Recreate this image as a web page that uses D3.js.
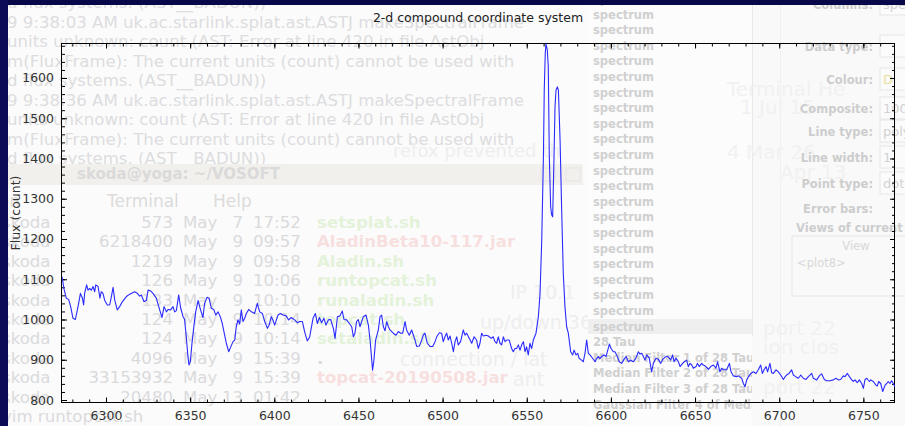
<!DOCTYPE html>
<html><head><meta charset="utf-8">
<script src="https://cdn.jsdelivr.net/npm/d3@7"></script>
<style>
html,body{margin:0;padding:0;background:#fbfbfb;overflow:hidden}
svg{display:block}
text{font-family:"DejaVu Sans",sans-serif}
</style></head><body>
<svg id="chart" width="905" height="426"></svg>
<script>
// Spectrum around H-alpha: wavelength (Angstrom) and flux (count)
const wavelength = [
  6273.9,6275.0,6276.4,6277.8,6279.0,6280.4,6281.8,6283.4,6284.8,6286.0,
  6286.7,6287.3,6288.5,6289.3,6290.3,6291.3,6292.3,6293.3,6293.9,6295.3,
  6296.4,6297.2,6298.2,6299.2,6300.8,6302.2,6303.2,6304.2,6305.2,6306.7,
  6308.1,6309.7,6312.1,6314.1,6317.0,6318.6,6320.0,6321.0,6322.6,6324.0,
  6325.0,6326.5,6327.9,6329.9,6331.9,6333.3,6334.5,6335.9,6336.8,6338.4,
  6339.8,6340.8,6341.8,6343.2,6344.4,6345.8,6346.7,6347.7,6348.7,6349.3,
  6350.1,6351.1,6352.3,6353.3,6354.7,6356.2,6357.6,6358.6,6360.0,6361.2,
  6362.6,6364.0,6365.2,6366.6,6367.9,6369.1,6370.5,6371.5,6372.9,6374.1,
  6375.5,6376.5,6377.4,6378.4,6379.4,6380.4,6381.4,6382.4,6383.4,6384.8,
  6386.4,6388.3,6389.9,6391.3,6392.9,6394.3,6395.9,6396.9,6398.2,6399.2,
  6400.2,6402.2,6403.6,6405.2,6407.1,6408.5,6410.1,6412.1,6413.7,6415.1,
  6416.7,6418.0,6419.6,6421.0,6423.0,6424.4,
  6425.6,6426.8,6428.1,6429.5,6430.7,6432.1,6433.5,6435.1,6436.1,6437.5,
  6439.0,6440.4,6441.4,6443.0,6444.6,6446.0,6447.0,6447.9,6448.9,6449.9,
  6450.9,6452.9,6454.5,6455.9,6456.9,6457.9,6458.4,6459.2,6460.2,6461.8,
  6462.8,6463.8,6464.8,6465.8,6466.8,6467.8,6468.7,6470.7,6472.3,6473.7,
  6475.1,6476.3,6477.7,6478.6,6480.2,6481.6,6483.6,6484.6,6486.2,6487.6,
  6488.5,6489.5,6490.9,6492.5,6494.1,6495.5,6496.5,6498.1,6499.4,6500.4,
  6501.4,6502.4,6503.4,6504.4,6505.4,6506.4,6507.4,6508.4,6509.3,6510.7,
  6512.3,6513.3,6514.3,6515.9,6517.3,6518.7,6520.2,6521.2,6522.2,6523.2,
  6524.2,6525.8,6527.2,6528.8,6530.1,6531.1,6532.1,6533.1,6534.1,6535.1,
  6536.1,6537.1,6538.1,6539.6,6541.0,6542.0,6543.0,6544.0,6545.0,6546.0,
  6547.0,6548.0,6549.0,6549.9,6550.9,6551.9,6552.9,6553.9,6555.5,6556.9,
  6557.9,6558.9,6559.9,6560.4,6561.0,6561.4,6562.2,6562.8,6563.4,6564.2,
  6564.8,6565.4,6566.2,6566.8,6567.4,6568.2,6568.8,6569.8,6570.7,6571.7,
  6572.7,6573.7,6574.7,6576.1,6577.3,6578.1,6579.3,6580.3,6581.2,6582.6,
  6583.6,6584.6,6585.6,6586.6,6587.6,6589.2,6590.6,6591.5,6592.5,6593.5,
  6594.5,6595.9,6597.1,6597.9,6599.1,6600.1,6601.4,6602.4,6603.4,6605.0,
  6606.4,6607.8,6609.0,6610.4,6611.7,6613.3,6614.9,6616.3,6617.3,6618.3,
  6619.3,6620.3,6621.3,6622.8,6624.2,6625.2,6626.8,6628.2,6629.6,6630.8,
  6632.1,6633.5,6634.7,6635.5,6636.7,6637.5,6638.7,6640.1,6641.1,6642.6,
  6643.6,6645.0,6646.0,6647.0,6648.0,6649.0,6650.6,6651.4,6652.5,6653.9,
  6654.9,6656.5,6657.9,6659.3,6660.9,6662.4,6663.4,6664.8,6665.8,6666.8,
  6668.8,6670.4,6671.4,6672.7,6674.7,6675.7,6677.7,6678.7,6679.7,6680.7,
  6681.7,6683.2,6684.6,6686.2,6687.6,6689.0,6690.0,6691.0,6692.2,6693.1,
  6694.5,6695.5,6696.5,6698.1,6699.5,6700.9,6702.5,6703.5,6704.4,6705.8,
  6707.4,6708.4,6709.8,6711.4,6712.8,6714.3,6715.9,6717.3,6718.3,6719.3,
  6720.3,6722.3,6723.8,6725.2,6726.8,6728.2,6730.2,6732.2,6733.7,6735.1,
  6736.5,6738.1,6739.1,6740.5,6741.7,6743.1,6744.1,6745.0,6746.4,6747.6,
  6749.0,6750.0,6751.0,6752.0,6753.6,6754.4,6755.9,6757.5,6758.3,6759.1,
  6760.3,6761.5,6762.9,6763.9,6764.8,6765.8,6766.8,6767.8,6768.8
];
const flux = [
  1106,1077,1053,1050,1032,1003,1000,1032,1065,1053,
  1036,1065,1086,1073,1077,1073,1082,1069,1086,1082,
  1053,1069,1065,1048,1036,1036,1057,1080,1048,1024,
  1032,1044,1057,1063,1069,1065,1058,1061,1044,1048,
  1073,1071,1065,1053,1024,1005,1032,1019,1025,1024,
  1032,1019,1022,1061,1028,1007,1000,957,908,887,
  895,941,986,1019,1047,1024,1005,1040,1055,1053,
  1028,1025,1011,1019,1007,990,961,941,920,932,
  945,949,982,999,989,1024,995,1003,1015,1025,
  1019,1015,1040,1019,1015,995,978,986,1007,999,
  986,1011,1015,1011,1009,999,1005,999,992,995,
  995,970,947,956,1003,1015,
  990,1005,992,1003,986,999,1000,978,953,1007,
  1009,1021,1000,999,990,982,957,966,995,1000,
  982,1007,1011,986,949,899,874,899,949,974,
  1007,1011,982,972,995,982,974,966,961,970,
  966,966,995,974,961,974,949,933,934,949,
  961,966,941,933,933,945,957,967,966,945,
  957,966,949,959,941,920,945,957,937,945,
  974,961,966,953,941,957,949,928,941,966,
  959,961,959,953,957,945,941,957,941,937,
  957,945,949,949,928,920,928,928,937,924,
  937,945,920,932,912,941,928,949,966,1007,
  1065,1197,1405,1570,1661,1685,1670,1628,1405,1280,
  1260,1255,1405,1529,1570,1578,1570,1446,1280,1115,
  1032,982,966,920,912,924,912,916,903,899,
  895,916,949,916,912,903,895,903,908,903,
  908,912,908,920,939,928,920,920,912,895,
  891,901,908,895,899,895,904,920,914,916,
  908,899,912,904,870,891,904,901,891,901,
  906,909,904,899,912,895,904,895,883,891,
  895,899,883,891,887,879,883,891,883,891,
  887,883,876,883,887,879,895,870,879,875,
  875,891,870,860,858,860,854,841,833,850,
  858,866,870,866,875,887,866,875,883,870,
  891,868,866,875,870,862,851,858,862,866,
  875,862,858,854,862,854,851,858,862,866,
  854,850,860,865,851,848,848,850,854,850,
  851,860,858,866,858,850,846,850,843,850,
  841,829,851,854,846,850,846,837,835,846,
  841,821,837,841,846,841,848,841,833
];
const xTickLabels = [6300,6350,6400,6450,6500,6550,6600,6650,6700,6750];
const yTickLabels = [800,900,1000,1100,1200,1300,1400,1500,1600];
const plotTitle = "2-d compound coordinate system";
const yAxisTitle = "Flux (count)";

// Desktop content showing through the translucent plot window
const logLines = [
  "d flux systems. (AST__BADUN))",
  "9 9:38:03 AM uk.ac.starlink.splat.ast.ASTJ makeSpectralFrame",
  "units unknown: count (AST: Error at line 420 in file AstObj",
  "m(FluxFrame): The current units (count) cannot be used with",
  "d flux systems. (AST__BADUN))",
  "9 9:38:36 AM uk.ac.starlink.splat.ast.ASTJ makeSpectralFrame",
  "units unknown: count (AST: Error at line 420 in file AstObj",
  "m(FluxFrame): The current units (count) cannot be used with",
  "d flux systems. (AST__BADUN))"
];
const listSizes = ["573","6218400","1219","126","133","124","124","4096","33153932","20480"];
const listDays  = ["7","9","9","9","9","9","9","9","9","13"];
const listTimes = ["17:52","09:57","09:58","10:06","10:10","10:14","10:14","15:39","15:39","01:42"];
const listFiles = ["setsplat.sh","AladinBeta10-117.jar","Aladin.sh","runtopcat.sh","runaladin.sh",
                   "topcat.sh","setaladin.sh",".","topcat-20190508.jar",""];
const listKinds = ["script","jar","script","script","script","script","script","dir","jar","dir"];
const spectraNames = d3.range(22).map(() => "spectrum")
  .concat(["28 Tau","Median Filter 1 of 28 Tau","Median Filter 2 of 28 Tau",
           "Median Filter 3 of 28 Tau","Gaussian Filter 4 of Median"]);
const panelLabels = ["Columns:","Data type:","Colour:","Composite:","Line type:",
                     "Line width:","Point type:","Error bars:"];
const panelRows   = [4,46,79,108,131,157,183,208];
const panelValues = ["spe","","D","100","poly","1","dot",""];

const svg = d3.select("#chart");
const W = 905, H = 426;

// ---------- background ----------
svg.append("rect").attr("width", W).attr("height", H).attr("fill", "#fbfbfb");

const ghost = svg.append("g").attr("class", "ghost");
const mono = '"DejaVu Sans Mono", monospace';

ghost.selectAll("text.log").data(logLines).join("text")
  .attr("class", "log")
  .attr("x", 7).attr("y", (d, i) => 2 + i * 19.5 + 6)
  .attr("font-family", mono).attr("font-size", 16.6)
  .attr("fill", "#dddde0").text(d => d);

// terminal title bar and menu
ghost.append("rect").attr("x", 7).attr("y", 164).attr("width", 576).attr("height", 21).attr("fill", "#f2f0ec");
ghost.append("text").attr("x", 77).attr("y", 179).attr("font-size", 15).attr("font-weight", "bold")
  .attr("fill", "#dadada").text("skoda@yoga: ~/VOSOFT");
ghost.selectAll("rect.btn").data([541, 566]).join("rect").attr("class", "btn")
  .attr("x", d => d).attr("y", 168).attr("width", 14).attr("height", 13)
  .attr("fill", "none").attr("stroke", "#e4e4e4");
ghost.append("text").attr("x", 20).attr("y", 207).attr("text-anchor", "end").attr("font-size", 17)
  .attr("fill", "#dcdcdc").text("Session");
ghost.append("text").attr("x", 107).attr("y", 207).attr("font-size", 17).attr("fill", "#dcdcdc").text("Terminal");
ghost.append("text").attr("x", 213).attr("y", 207).attr("font-size", 17).attr("fill", "#dcdcdc").text("Help");

// directory listing
const rowY = i => 222 + i * 19.4 + 6;
const listRows = ghost.selectAll("g.row").data(listSizes).join("g").attr("class", "row")
  .attr("font-family", mono).attr("font-size", 16.6).attr("fill", "#dadadc");
listRows.append("text").attr("x", 2).attr("y", (d, i) => rowY(i)).text("skoda");
listRows.append("text").attr("x", 173).attr("y", (d, i) => rowY(i)).attr("text-anchor", "end").text(d => d);
listRows.append("text").attr("x", 183).attr("y", (d, i) => rowY(i)).text("May");
listRows.append("text").attr("x", 243).attr("y", (d, i) => rowY(i)).attr("text-anchor", "end").text((d, i) => listDays[i]);
listRows.append("text").attr("x", 253).attr("y", (d, i) => rowY(i)).text((d, i) => listTimes[i]);
listRows.append("text").attr("x", 317).attr("y", (d, i) => rowY(i)).attr("font-weight", "bold")
  .attr("fill", (d, i) => listKinds[i] === "jar" ? "#f8dfdf" : listKinds[i] === "script" ? "#e4f2da" : "#dadadc")
  .text((d, i) => listFiles[i]);
ghost.append("text").attr("x", 2).attr("y", rowY(10)).attr("font-family", mono).attr("font-size", 16.6)
  .attr("fill", "#dadadc").text("vim runtopcat.sh");

// other window fragments
const faint = [
  {t: "refox prevented th", x: 393, y: 157, s: 18},
  {t: "IP 10.1", x: 510, y: 299, s: 19},
  {t: "up/down 36", x: 480, y: 329, s: 19},
  {t: "connection / lat", x: 400, y: 366, s: 19},
  {t: "ant", x: 513, y: 386, s: 19}
];
ghost.selectAll("text.faint").data(faint).join("text").attr("class", "faint")
  .attr("x", d => d.x).attr("y", d => d.y).attr("font-size", d => d.s)
  .attr("fill", "#eeeeee").text(d => d.t);

// spectra list panel
ghost.append("rect").attr("x", 588).attr("y", 0).attr("width", 164).attr("height", H).attr("fill", "#fcfcfc");
ghost.append("rect").attr("x", 588).attr("y", 319).attr("width", 164).attr("height", 15).attr("fill", "#efefef");
ghost.selectAll("text.spec").data(spectraNames).join("text").attr("class", "spec")
  .attr("x", 593).attr("y", (d, i) => -1.6 + i * 15.6 + 4.5)
  .attr("font-size", 11.5).attr("font-weight", "bold").attr("fill", "#d0d0d0").text(d => d);

// properties panel
ghost.append("rect").attr("x", 752).attr("y", 0).attr("width", W - 752).attr("height", H).attr("fill", "#f9f9f9");
ghost.append("line").attr("x1", 752.5).attr("x2", 752.5).attr("y1", 0).attr("y2", 336).attr("stroke", "#e8e8e8");
ghost.append("line").attr("x1", 780.5).attr("x2", 780.5).attr("y1", 0).attr("y2", 426).attr("stroke", "#f0f0f0");
const fragments2 = [
  {t: "Terminal  He", x: 727, y: 96, s: 20},
  {t: "1 Jul 15", x: 740, y: 114, s: 20},
  {t: "4 Mar 26", x: 727, y: 159, s: 20},
  {t: "Apr 13", x: 780, y: 179, s: 20},
  {t: "port 22", x: 763, y: 335, s: 20},
  {t: "ion clos", x: 763, y: 354, s: 20},
  {t: "port 22", x: 763, y: 394, s: 20}
];
ghost.selectAll("text.frag2").data(fragments2).join("text").attr("class", "frag2")
  .attr("x", d => d.x).attr("y", d => d.y).attr("font-size", d => d.s)
  .attr("font-family", mono).attr("fill", "#f1f1f1").text(d => d.t);
ghost.selectAll("text.plabel").data(panelLabels).join("text").attr("class", "plabel")
  .attr("x", 873).attr("y", (d, i) => panelRows[i] + 4.5).attr("text-anchor", "end")
  .attr("font-size", 11.5).attr("font-weight", "bold").attr("fill", "#cdcdcd").text(d => d);
ghost.selectAll("rect.pbox").data(panelRows.slice(0, 7)).join("rect").attr("class", "pbox")
  .attr("x", 880).attr("y", d => d - 11).attr("width", 30).attr("height", 22)
  .attr("fill", "#fbfbfb").attr("stroke", "#e6e6e6");
ghost.selectAll("text.pval").data(panelValues).join("text").attr("class", "pval")
  .attr("x", 883).attr("y", (d, i) => panelRows[i] + 5).attr("font-size", 13)
  .attr("fill", (d, i) => i === 2 ? "#e8e0a0" : "#d2d2d2").text(d => d);
ghost.append("text").attr("x", 796).attr("y", 232).attr("font-size", 11.5).attr("font-weight", "bold")
  .attr("fill", "#cdcdcd").text("Views of current");
ghost.append("rect").attr("x", 792).attr("y", 236).attr("width", 120).attr("height", 60)
  .attr("fill", "none").attr("stroke", "#e6e6e6");
ghost.append("text").attr("x", 856).attr("y", 250).attr("text-anchor", "middle").attr("font-size", 11.5)
  .attr("fill", "#d8d8d8").text("View");
ghost.append("text").attr("x", 797).attr("y", 267).attr("font-size", 11.5)
  .attr("fill", "#d8d8d8").text("<plot8>");

// desktop edges
svg.append("rect").attr("x", 0).attr("y", 0).attr("width", W).attr("height", 5).attr("fill", "#07074a");
svg.append("rect").attr("x", 0).attr("y", 0).attr("width", 8).attr("height", H).attr("fill", "#0b0b58");

// ---------- plot ----------
const pLeft = 62, pRight = 895, pTop = 43.5, pBottom = 402.5;
const x = d3.scaleLinear().domain([6273.86, 6768.8]).range([pLeft, pRight]);
const y = d3.scaleLinear().domain([793.8, 1685.7]).range([pBottom, pTop]);

const xMinor = d3.range(6280, 6761, 10);
const yMinor = d3.range(800, 1681, 20);

const plot = svg.append("g").attr("class", "plot");
const styleAxis = g => {
  g.select(".domain").remove();
  g.selectAll("line").attr("stroke", "#000");
  g.selectAll("text").attr("font-family", '"DejaVu Sans", sans-serif')
    .attr("font-size", 12.5).attr("fill", "#333");
};

plot.append("g").attr("transform", `translate(0,${pBottom})`)
  .call(d3.axisBottom(x).tickValues(xMinor).tickSize(-3).tickFormat("")).call(styleAxis);
plot.append("g").attr("transform", `translate(0,${pBottom})`)
  .call(d3.axisBottom(x).tickValues(xTickLabels).tickSize(-5).tickPadding(9).tickFormat(d3.format("d")))
  .call(styleAxis);
plot.append("g").attr("transform", `translate(0,${pTop})`)
  .call(d3.axisTop(x).tickValues(xMinor).tickSize(-3).tickFormat("")).call(styleAxis);
plot.append("g").attr("transform", `translate(0,${pTop})`)
  .call(d3.axisTop(x).tickValues(xTickLabels).tickSize(-5).tickFormat("")).call(styleAxis);

plot.append("g").attr("transform", `translate(${pLeft},0)`)
  .call(d3.axisLeft(y).tickValues(yMinor).tickSize(-3).tickFormat("")).call(styleAxis);
plot.append("g").attr("transform", `translate(${pLeft},0)`)
  .call(d3.axisLeft(y).tickValues(yTickLabels).tickSize(-5).tickPadding(8).tickFormat(d3.format("d")))
  .call(styleAxis);
plot.append("g").attr("transform", `translate(${pRight},0)`)
  .call(d3.axisRight(y).tickValues(yMinor).tickSize(-3).tickFormat("")).call(styleAxis);
plot.append("g").attr("transform", `translate(${pRight},0)`)
  .call(d3.axisRight(y).tickValues(yTickLabels).tickSize(-5).tickFormat("")).call(styleAxis);

plot.append("rect").attr("x", pLeft - 0.5).attr("y", pTop).attr("width", pRight - pLeft)
  .attr("height", pBottom - pTop).attr("fill", "none").attr("stroke", "#000").attr("stroke-width", 1);

const clipId = "plot-clip";
svg.append("defs").append("clipPath").attr("id", clipId).append("rect")
  .attr("x", pLeft).attr("y", pTop - 1).attr("width", pRight - pLeft).attr("height", pBottom - pTop + 1);

const series = d3.zip(wavelength, flux);
plot.append("path").datum(series)
  .attr("clip-path", `url(#${clipId})`)
  .attr("fill", "none").attr("stroke", "#2a2aff").attr("stroke-width", 1.1)
  .attr("stroke-linejoin", "round")
  .attr("d", d3.line().x(d => x(d[0])).y(d => y(d[1])));

plot.append("text").attr("x", 478).attr("y", 22).attr("text-anchor", "middle")
  .attr("font-size", 12.5).attr("fill", "#222").text(plotTitle);
plot.append("text").attr("transform", "translate(19.5,213) rotate(-90)").attr("text-anchor", "middle")
  .attr("font-size", 12.5).attr("fill", "#333").text(yAxisTitle);
</script>
</body></html>
